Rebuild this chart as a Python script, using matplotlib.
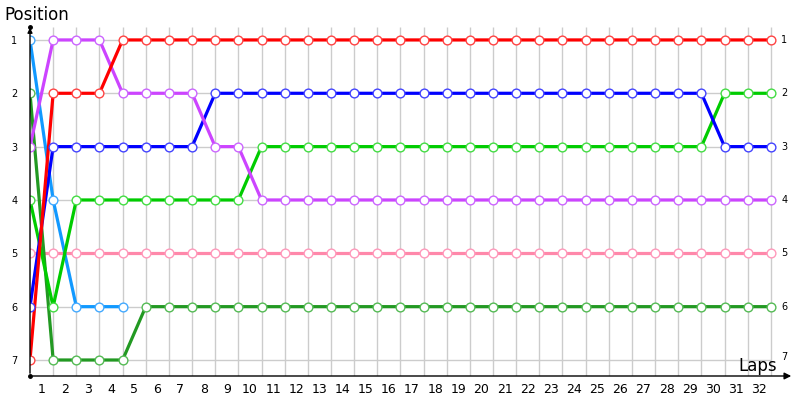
import matplotlib
matplotlib.use("Agg")
import matplotlib.pyplot as plt

laps = list(range(0, 33))
red = [7, 2, 2, 2] + [1] * 29
purple = [3, 1, 1, 1, 2, 2, 2, 2, 3, 3] + [4] * 23
lightblue = [1, 4, 6, 6, 6]
darkgreen = [2, 7, 7, 7, 7] + [6] * 28
blue = [6] + [3] * 7 + [2] * 22 + [3] * 3
green = [4, 6] + [4] * 8 + [3] * 20 + [2] * 3
pink = [5] * 33

series = [
    (pink, "#ff88aa", "#ff99bb"),
    (darkgreen, "#229922", "#55bb55"),
    (lightblue, "#1199ff", "#44aaff"),
    (green, "#00cc00", "#44dd44"),
    (blue, "#0000ff", "#4444ff"),
    (purple, "#cc44ff", "#cc66ff"),
    (red, "#ff0000", "#ff4444"),
]
positions = [1, 2, 3, 4, 5, 6, 7]
lap_labels = [str(i) for i in range(1, 33)]

fig = plt.figure(figsize=(8, 4), dpi=100)
ax = fig.add_axes([0.0375, 0.06, 0.955, 0.8775])
ax.set_xlim(0, 33)
ax.set_ylim(7.3, 0.72)

for p in positions:
    ax.hlines(p, 0, 32, color="#cccccc", lw=1, zorder=1)
for l in laps[1:]:
    ax.vlines(l, 7.3, 0.75, color="#cccccc", lw=1, zorder=1)

for vals, c, mc in series:
    x = laps[:len(vals)]
    ax.plot(x, vals, color=c, lw=2.3, zorder=3, solid_joinstyle="round")
    ax.plot(x, vals, ls="none", marker="o", ms=6.3, mfc="white", mec=mc, mew=1, zorder=4)

for s in ["top", "right", "left", "bottom"]:
    ax.spines[s].set_visible(False)

ax.annotate("", xy=(0, 0.72), xytext=(0, 7.3),
            arrowprops=dict(arrowstyle="-|>", color="black", lw=1, mutation_scale=7), zorder=5)
ax.annotate("", xy=(33, 7.3), xytext=(0, 7.3),
            arrowprops=dict(arrowstyle="-|>", color="black", lw=1, mutation_scale=10), zorder=5)
ax.plot([0], [7.3], marker="o", ms=2.5, color="black", clip_on=False, zorder=6)
ax.plot([0], [0.75], marker="o", ms=2.5, color="black", clip_on=False, zorder=6)

ax.set_xticks([i - 0.5 for i in range(1, 33)])
ax.set_xticklabels(lap_labels, fontsize=9)
ax.set_yticks(positions)
ax.set_yticklabels([str(p) for p in positions], fontsize=7)
ax.tick_params(axis="both", length=0)
ax.tick_params(axis="x", pad=5)
ax.tick_params(axis="y", pad=9)
for p in positions:
    ax.text(32.45, p - (0.05 if p == 7 else 0), str(p), fontsize=7, va="center", ha="left")

fig.text(0.006, 0.962, "Position", fontsize=12, ha="left", va="center")
ax.text(32.27, 7.12, "Laps", fontsize=12, ha="right", va="center")

fig.savefig("out.png", dpi=100)
